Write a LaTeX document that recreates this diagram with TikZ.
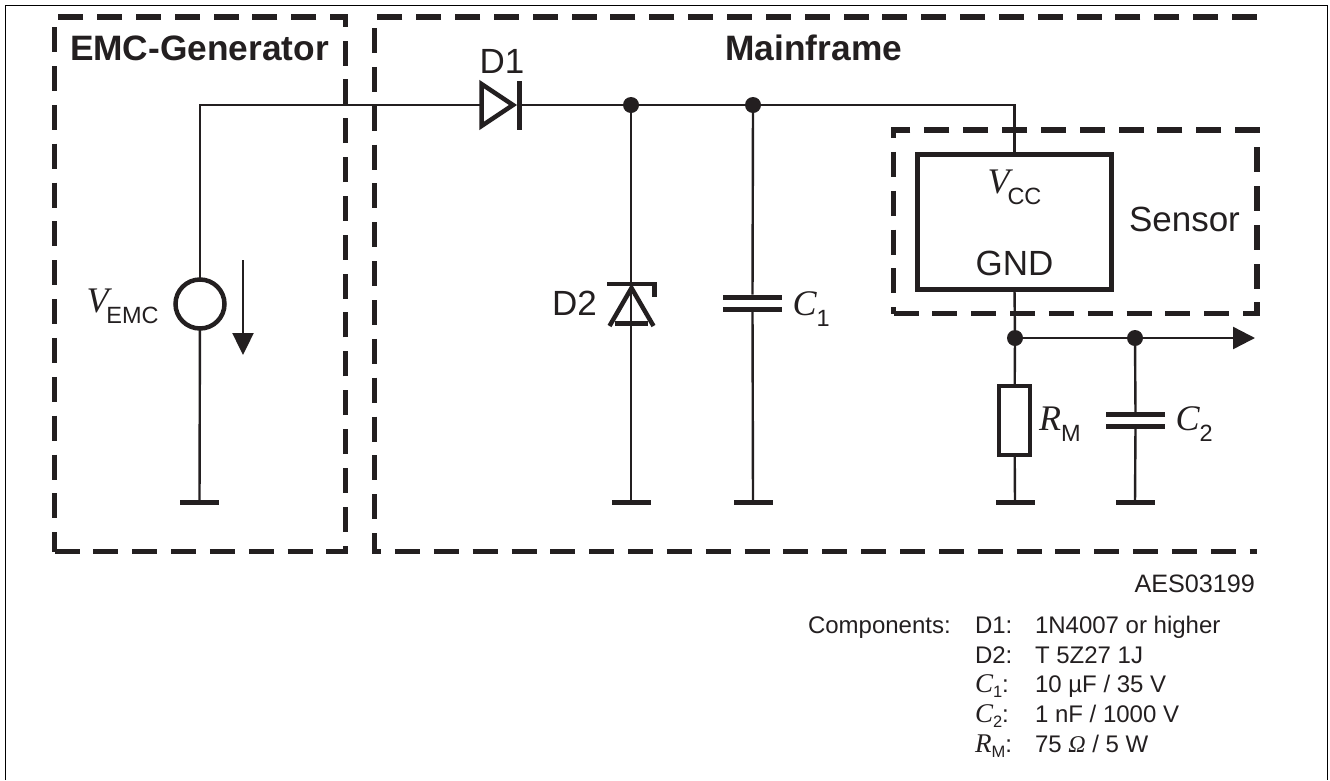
\documentclass[tikz,border=0pt]{standalone}
\usepackage{fontspec}
\setmainfont{Liberation Sans}
\newfontfamily\serifit[ItalicFont=Liberation Serif Italic]{Liberation Serif}
\usetikzlibrary{arrows.meta}
\definecolor{ink}{HTML}{231F20}
\newcommand{\biglabel}[2]{{\fontsize{36}{36}\selectfont\serifit\itshape #1}\raisebox{-11pt}{\fontsize{23.5}{24}\selectfont #2}}
\newcommand{\tablabel}[2]{{\fontsize{27}{27}\selectfont\serifit\itshape #1}\raisebox{-5pt}{\fontsize{16.5}{17}\selectfont #2}:}

\begin{document}
\begin{tikzpicture}[x=1pt,y=-1pt,inner sep=0pt,outer sep=0pt]
	\tikzset{
		wire/.style={draw=ink,line width=2.4pt},
		dashbox/.style={draw=ink,line width=5.2pt,line join=miter,dash pattern=on 25pt off 13.85pt},
		part/.style={draw=ink,line width=4.5pt},
		junction/.style={circle,fill=ink,minimum size=16pt},
		gndbar/.style={rectangle,fill=ink,minimum width=39pt,minimum height=5pt},
		plate/.style={rectangle,fill=ink,minimum width=59pt,minimum height=5pt},
		biglbl/.style={anchor=base west,text=ink,font=\fontsize{35}{35}\selectfont},
		boldlbl/.style={anchor=base west,text=ink,font=\fontsize{35.3}{35}\selectfont\bfseries},
		tablbl/.style={anchor=base west,text=ink,font=\fontsize{24}{24}\selectfont}
	}

	\useasboundingbox (0,0) rectangle (1330,780);
	\draw[black,line width=1.6pt] (5.5,780) -- (5.5,5.5) -- (1327.5,5.5) -- (1327.5,780);

	% dashed frames
	\draw[dashbox] (54.5,551.5) -- (345.5,551.5) -- (345.5,17) -- (54.5,17) -- (54.5,551.5);
	\draw[dashbox] (1257,17) -- (374.5,17) -- (374.5,551.5) -- (1257,551.5);
	\draw[dashbox] (893.5,313.5) -- (1257,313.5) -- (1257,130) -- (893.5,130) -- (893.5,313.5);

	\node[boldlbl] (emc) at (70,60) {EMC-Generator};
	\node[boldlbl] (main) at (725.5,60) {Mainframe};
	\node[biglbl] (sensor) at (1129,231) {Sensor};

	% source side
	\node[circle,draw=ink,line width=4.5pt,minimum size=49pt] (src) at (200,304) {};
	\node[gndbar] (g1) at (199.5,502.5) {};
	\coordinate (a1) at (243,260);
	\coordinate (a2) at (243,355);
	\node[biglbl] (vemc) at (86.5,312) {\biglabel{V\kern-2pt}{EMC}};
	\draw[wire] (src) -- (g1);
	\draw[wire,-{Triangle[length=22pt,width=21pt]}] (a1) -- (a2);

	% diode D1
	\coordinate (d1a) at (481.5,105);
	\node[rectangle,fill=ink,minimum width=5pt,minimum height=49pt] (d1k) at (519.5,105) {};
	\draw[part,line join=miter] (481.5,84) -- (481.5,126) -- (513,105) -- cycle;
	\node[biglbl] (d1) at (479.5,73) {D1};
	\draw[wire] (src.north) |- (d1a);

	\node[junction] (j1) at (631,105) {};
	\node[junction] (j2) at (753,105) {};
	\node[rectangle,draw=ink,line width=5pt,minimum width=193.5pt,minimum height=135pt] (ic) at (1014.5,221.5) {};
	\draw[wire] (d1k) -- (j1);
	\draw[wire] (j1) -- (j2);
	\draw[wire] (j2) -| (ic.north);

	% zener D2
	\node[gndbar] (g2) at (631,502.5) {};
	\draw[wire] (j1) -- (g2);
	\draw[part] (607,284) -- (654.5,284) -- (654.5,297);
	\draw[part,line join=miter] (609.5,326) -- (631.5,288) -- (653.5,326);
	\draw[part] (615,323.5) -- (648,323.5);
	\node[biglbl] (d2) at (552,315) {D2};

	% C1
	\node[plate] (c1a) at (752.5,297) {};
	\node[plate] (c1b) at (752.5,309) {};
	\node[gndbar] (g3) at (753,502.5) {};
	\draw[wire] (j2) -- (c1a);
	\draw[wire] (c1b) -- (g3);
	\node[biglbl] (c1) at (792.5,315) {\biglabel{C}{1}};

	% sensor
	\node[biglbl,anchor=base] (gnd) at (1014.5,275) {GND};
	\node[biglbl] (vcc) at (987.5,193) {\biglabel{V\kern-2pt}{CC}};

	% output side
	\node[junction] (j3) at (1015,338) {};
	\node[junction] (j4) at (1135,338) {};
	\coordinate (out) at (1255,338);
	\node[rectangle,draw=ink,line width=4pt,minimum width=30.7pt,minimum height=68.7pt] (rm) at (1014.7,420.3) {};
	\node[plate] (c2a) at (1135.5,414.3) {};
	\node[plate] (c2b) at (1135.5,426) {};
	\node[gndbar] (g4) at (1015,502.5) {};
	\node[gndbar] (g5) at (1135,502.5) {};
	\draw[wire] (ic.south) -- (j3);
	\draw[wire] (j3) -- (rm.north);
	\draw[wire] (rm.south) -- (g4);
	\draw[wire] (j3) -- (j4);
	\draw[wire,-{Triangle[length=22pt,width=22pt]}] (j4) -- (out);
	\draw[wire] (j4) -- (c2a);
	\draw[wire] (c2b) -- (g5);
	\node[biglbl] (rmlbl) at (1039,430) {\biglabel{R}{M}};
	\node[biglbl] (c2) at (1175.5,430) {\biglabel{C}{2}};

	% parts list
	\node[tablbl,anchor=base east,font=\fontsize{25.2}{25}\selectfont] (aes) at (1255,592) {AES03199};
	\node[tablbl] (comp) at (808,633) {Components:};
	\node[tablbl] (k1) at (975,633) {D1:};
	\node[tablbl] (v1) at (1035,633) {1N4007 or higher};
	\node[tablbl] (k2) at (975,663) {D2:};
	\node[tablbl] (v2) at (1035,663) {T 5Z27 1J};
	\node[tablbl] (k3) at (975,692.5) {\tablabel{C}{1}};
	\node[tablbl] (v3) at (1035,692.5) {10 µF / 35 V};
	\node[tablbl] (k4) at (975,722) {\tablabel{C}{2}};
	\node[tablbl] (v4) at (1035,722) {1 nF / 1000 V};
	\node[tablbl] (k5) at (975,752) {\tablabel{R}{M}};
	\node[tablbl] (v5) at (1035,752) {75 {\serifit\itshape Ω} / 5 W};
\end{tikzpicture}
\end{document}
